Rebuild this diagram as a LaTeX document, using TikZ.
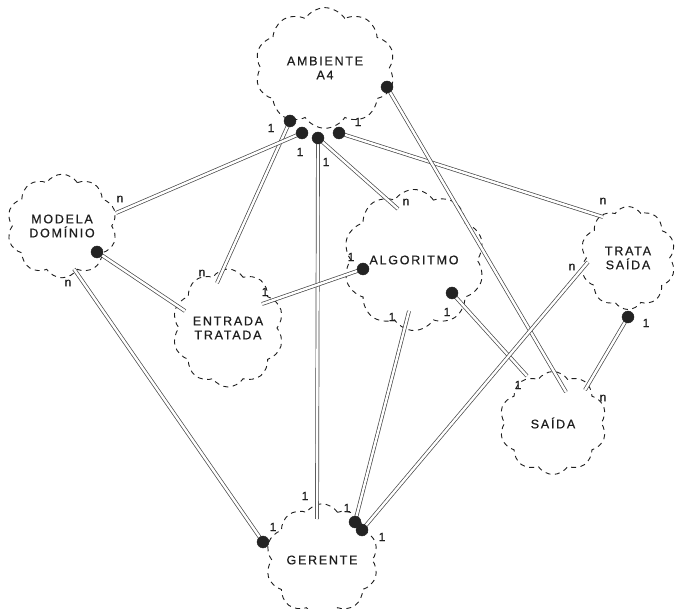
\documentclass[tikz,border=0pt]{standalone}
\usepackage{fontspec}
\setmainfont{Liberation Sans}
\usetikzlibrary{shapes.symbols}
\definecolor{cloudgray}{RGB}{30,30,30}
\definecolor{linkgray}{RGB}{70,70,70}
\definecolor{dotgray}{RGB}{35,35,35}
\newcommand{\entfont}{\fontsize{12.5}{14}\selectfont\addfontfeature{LetterSpace=14,FakeBold=0.6}}
\newcommand{\cardfont}{\fontsize{12}{14}\selectfont\addfontfeature{FakeBold=0.8}}

\begin{document}
\begin{tikzpicture}[x=1pt, y=-1pt,
    entity/.style={cloud, cloud puffs=10, cloud puff arc=115, draw=cloudgray,
                   line width=0.9pt, dash pattern=on 5pt off 4.5pt,
                   align=center, inner sep=0pt, font=\entfont, text=cloudgray},
    link/.style={draw=linkgray, line width=0.7pt, double=white, double distance=2.4pt},
    card/.style={font=\cardfont, inner sep=0pt, text=cloudgray}]
    \useasboundingbox[fill=white] (0,0) rectangle (675,609);

    % entities
    \node[entity, minimum width=140pt, minimum height=118pt] (amb) at (325,68) {AMBIENTE\\A4};
    \node[entity, minimum width=110pt, minimum height=95pt] (mod) at (62,226) {MODELA\\DOMÍNIO};
    \node[entity, minimum width=107pt, minimum height=118pt] (ent) at (228,328) {ENTRADA\\TRATADA};
    \node[entity, minimum width=102pt, minimum height=105pt] (alg) at (414,260) {ALGORITMO};
    \node[entity, minimum width=95pt, minimum height=103pt] (tra) at (628,258) {TRATA\\SAÍDA};
    \node[entity, minimum width=107pt, minimum height=103pt] (sai) at (553,423) {SAÍDA};
    \node[entity, minimum width=105pt, minimum height=108pt] (ger) at (322,560) {GERENTE};

    % ports
    \coordinate (a1) at (290,121);
    \coordinate (a2) at (302,133);
    \coordinate (a3) at (318,138);
    \coordinate (a4) at (339,133);
    \coordinate (a5) at (387,87);
    \coordinate (m1) at (116,213);
    \coordinate (m2) at (97,252);
    \coordinate (m3) at (74,269);
    \coordinate (e1) at (217,283);
    \coordinate (e2) at (185,311);
    \coordinate (e3) at (262,304);
    \coordinate (g1) at (363,269);
    \coordinate (g2) at (398,209);
    \coordinate (g3) at (452,293);
    \coordinate (g4) at (409,311);
    \coordinate (t1) at (603,217);
    \coordinate (t2) at (588,262);
    \coordinate (t3) at (628,317);
    \coordinate (s1) at (527,376);
    \coordinate (s2) at (566,392);
    \coordinate (s3) at (585,390);
    \coordinate (r1) at (263,542);
    \coordinate (r2) at (317,519);
    \coordinate (r3) at (355,522);
    \coordinate (r4) at (362,530);

    % relationships
    \foreach \u/\v in {a1/e1, a2/m1, a3/r2, a3/g2, a4/t1, a5/s2, m2/e2, m3/r1,
                       e3/g1, g3/s1, g4/r3, t2/r4, t3/s3}
        \draw[link] (\u) -- (\v);

    \foreach \p in {a1,a2,a3,a4,a5,m2,g1,g3,t3,r1,r3,r4}
        \filldraw[dotgray] (\p) circle (6pt);

    % cardinalities
    \foreach \x/\y/\t [count=\i] in {271/128/1, 300/152/1, 326/162/1, 358/122/1,
            120/199/n, 68/283/n, 202/273/n, 265/292/1, 351/257/1, 406/202/n,
            447/312/1, 392/317/1, 603/201/n, 572/267/n, 646/323/1, 518/385/1,
            603/398/n, 273/527/1, 305/496/1, 347/508/1, 382/537/1}
        \node[card] (card\i) at (\x,\y) {\t};
\end{tikzpicture}
\end{document}
